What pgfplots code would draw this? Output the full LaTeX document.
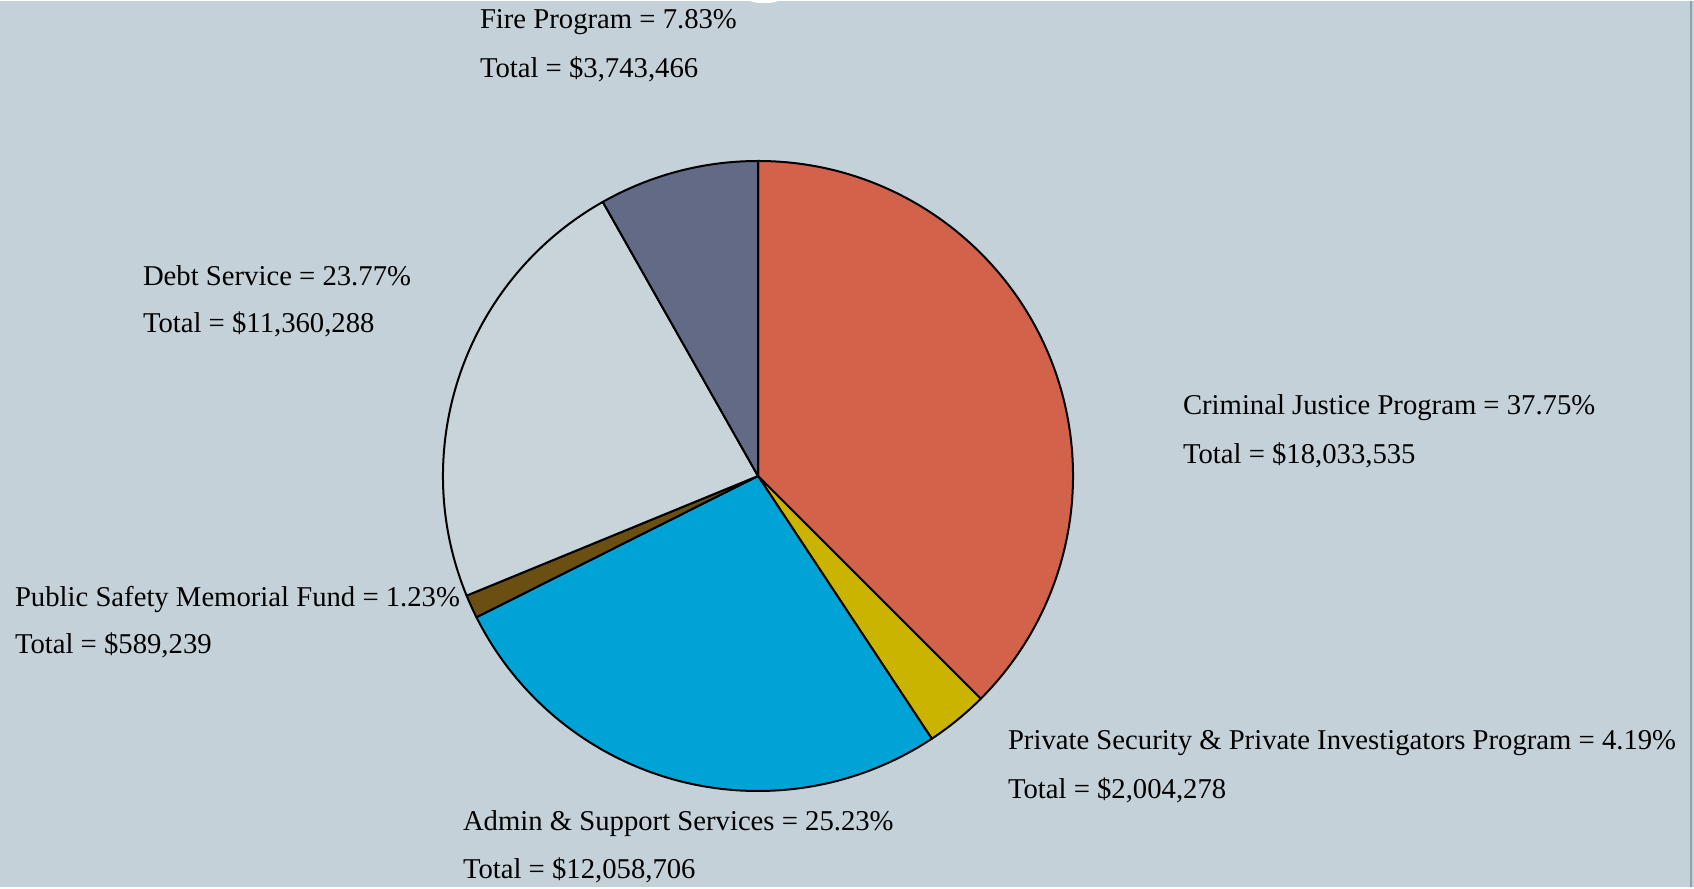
\documentclass[border=0pt]{standalone}
\usepackage{fontspec}
\setmainfont{Liberation Serif}
\usepackage{pgfplots}
\pgfplotsset{compat=1.18}
\usepackage{pgfplotstable}

\definecolor{bg}{HTML}{C5D1D8}
\definecolor{edge}{HTML}{8FA2A7}
\definecolor{c0}{HTML}{D2634A}% Criminal Justice
\definecolor{c1}{HTML}{CBB400}% Private Security
\definecolor{c2}{HTML}{00A3D6}% Admin & Support
\definecolor{c3}{HTML}{6B4F10}% Memorial Fund
\definecolor{c4}{HTML}{C9D4DA}% Debt Service
\definecolor{c5}{HTML}{636A85}% Fire Program

\tikzset{lbl/.style={font=\fontsize{14.4}{16}\selectfont, anchor=base west, inner sep=0pt, outer sep=0pt}}

% wedge sizes (percent of the circle) as drawn, clockwise from 12 o'clock
\pgfplotstableread{
idx pct
0 37.5
1 3.2
2 26.9
3 1.2
4 23.0
5 8.2
}\slices

\begin{document}
\begin{tikzpicture}
% start / end angles of each wedge
\xdef\acc{90}
\pgfplotsforeachungrouped \i in {0,...,5}{%
  \pgfplotstablegetelem{\i}{pct}\of\slices
  \pgfmathsetmacro\tmp{\acc-3.6*\pgfplotsretval}%
  \expandafter\xdef\csname s\i\endcsname{\acc}%
  \expandafter\xdef\csname e\i\endcsname{\tmp}%
  \xdef\acc{\tmp}%
}
\begin{axis}[
  x=0.5bp, y=0.5bp,
  xmin=0, xmax=1694, ymin=0, ymax=886,
  hide axis, clip=false,
]
\fill[bg] (axis cs:0,0) rectangle (axis cs:1694,886);
\draw[edge, line width=1bp] (axis cs:1691,0) -- (axis cs:1691,886);
\fill[white] (axis cs:750,886) .. controls (axis cs:757,883) and (axis cs:771,883) .. (axis cs:778,886) -- cycle;

\pgfplotsinvokeforeach{0,...,5}{
  \filldraw[fill=c#1, draw=black, line width=1bp, line join=round]
    (axis cs:758,411) -- ++(\csname s#1\endcsname:157.5bp)
    arc[start angle=\csname s#1\endcsname, end angle=\csname e#1\endcsname, radius=157.5bp] -- cycle;
}

\node[lbl] at (axis cs:480,858) {Fire Program = 7.83\%};
\node[lbl] at (axis cs:480,809) {Total = \$3,743,466};
\node[lbl] at (axis cs:143,601) {Debt Service = 23.77\%};
\node[lbl] at (axis cs:143,554) {Total = \$11,360,288};
\node[lbl] at (axis cs:1183,473) {Criminal Justice Program = 37.75\%};
\node[lbl] at (axis cs:1183,424) {Total = \$18,033,535};
\node[lbl] at (axis cs:1008,138) {Private Security \& Private Investigators Program = 4.19\%};
\node[lbl] at (axis cs:1008,89) {Total = \$2,004,278};
\node[lbl] at (axis cs:463,57) {Admin \& Support Services = 25.23\%};
\node[lbl] at (axis cs:463,9) {Total = \$12,058,706};
\node[lbl] at (axis cs:15,281) {Public Safety Memorial Fund = 1.23\%};
\node[lbl] at (axis cs:15,234) {Total = \$589,239};
\end{axis}
\end{tikzpicture}
\end{document}
